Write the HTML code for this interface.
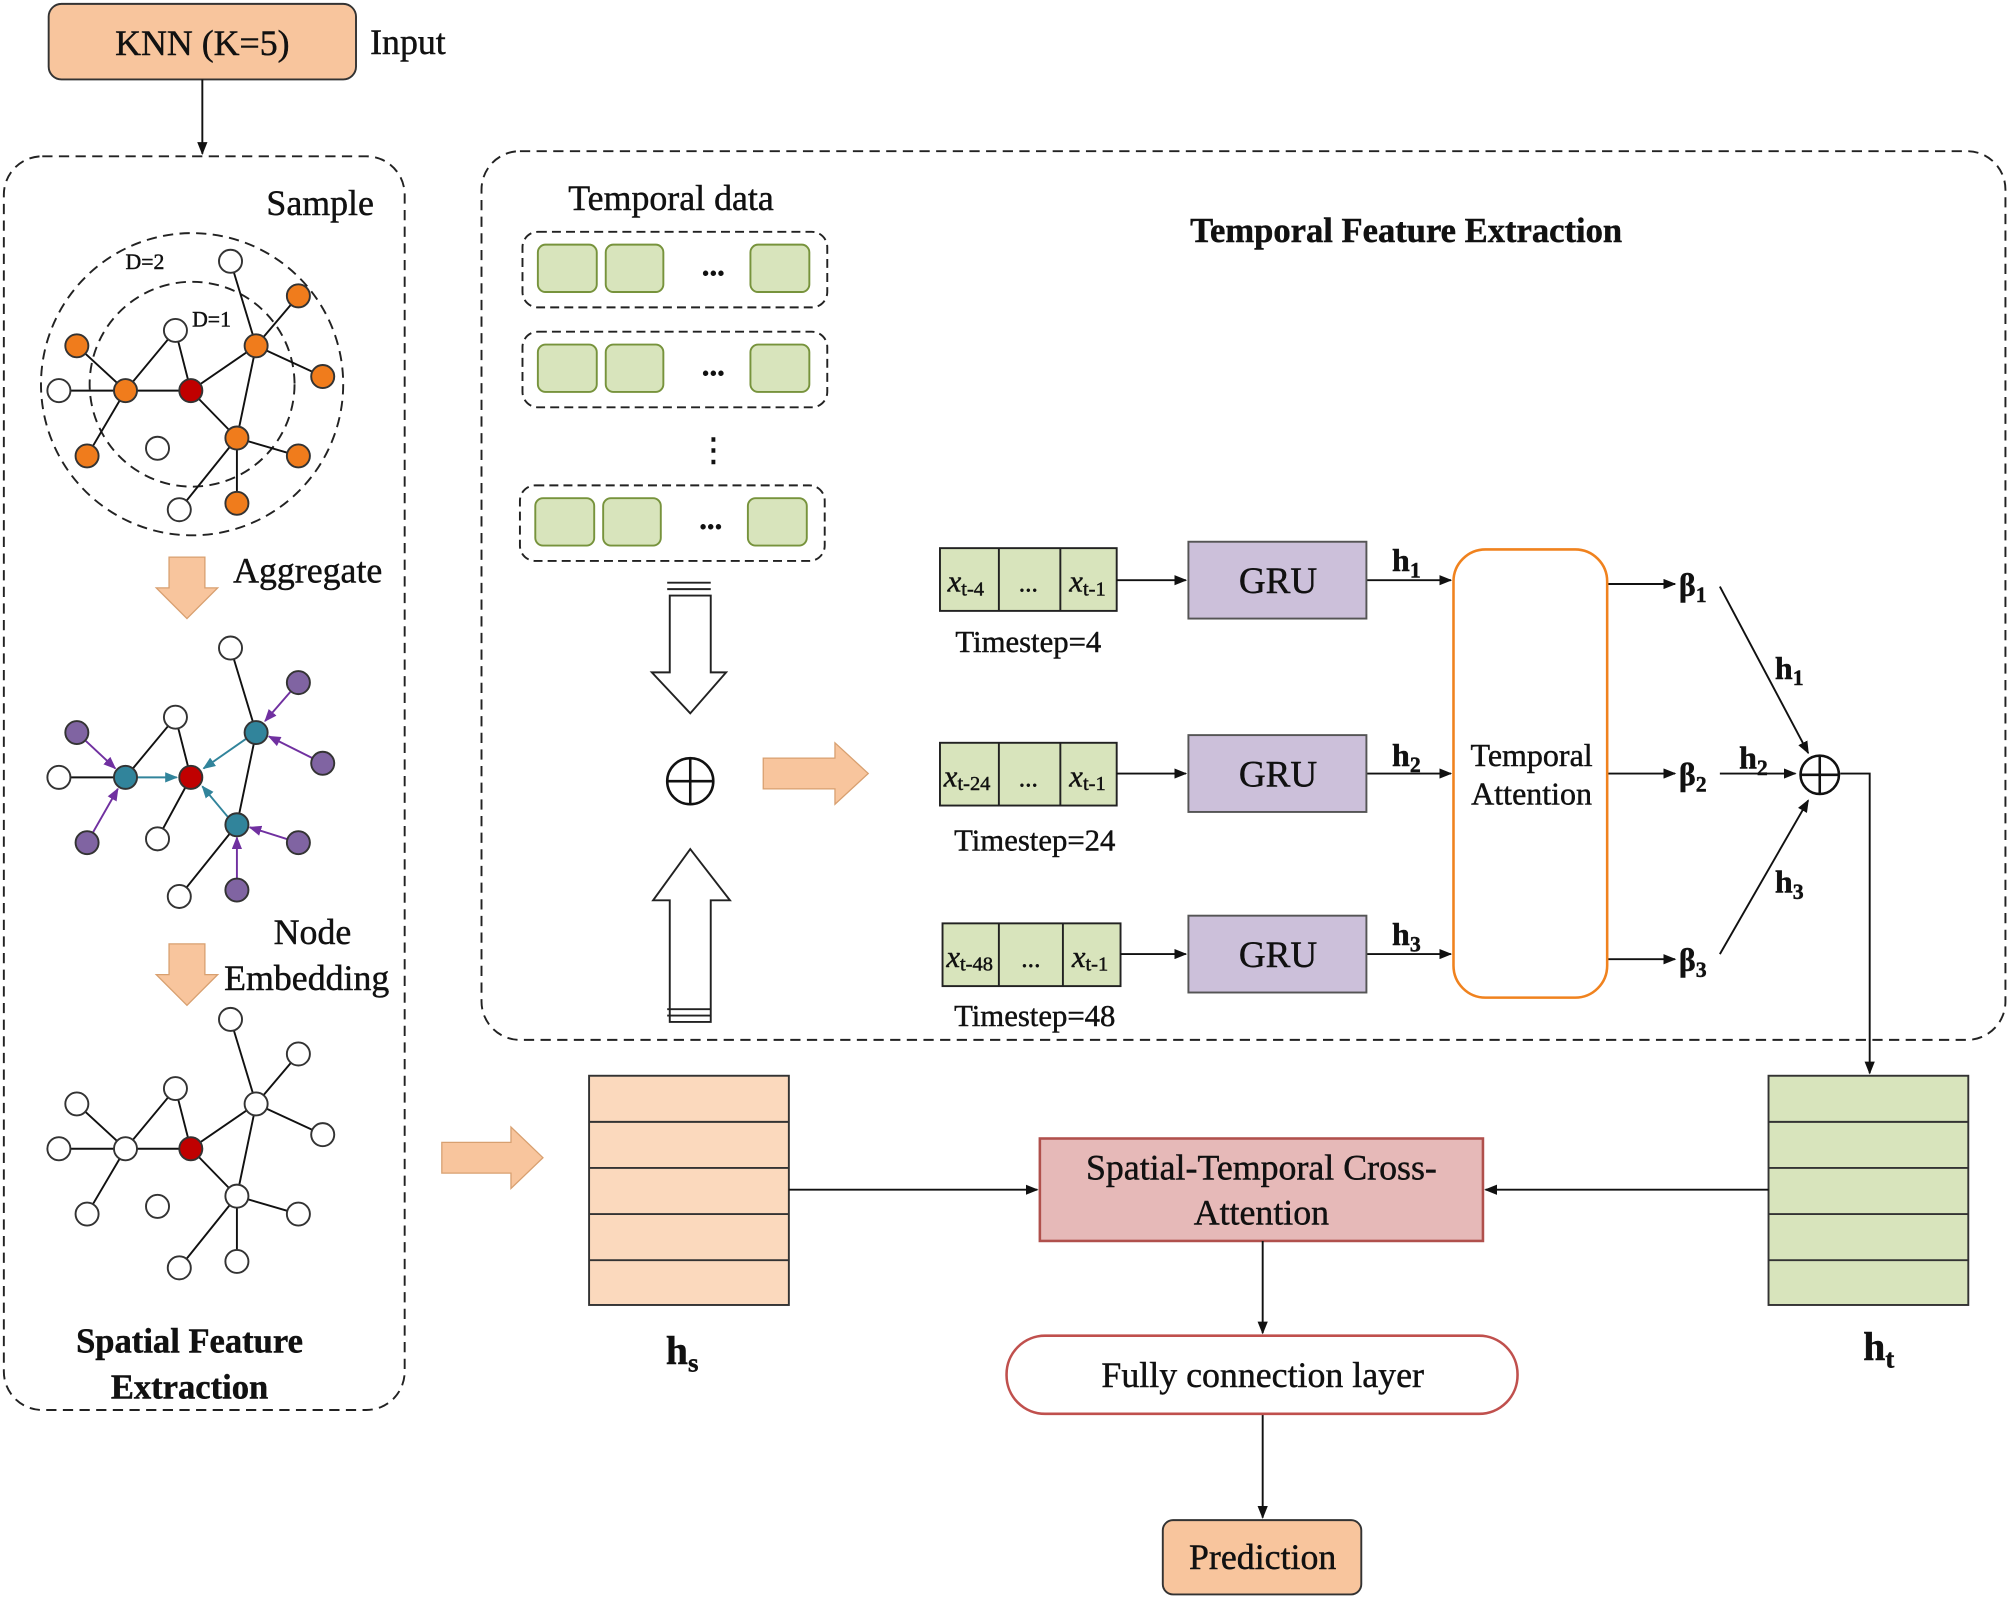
<!DOCTYPE html>
<html><head><meta charset="utf-8"><style>
html,body{margin:0;padding:0;background:#fff;}
svg{display:block;}
text{font-family:"Liberation Serif",serif;fill:#111;stroke:#111;stroke-width:0.35;}
</style></head><body>
<svg width="2008" height="1597" viewBox="0 0 1568 1247" xmlns="http://www.w3.org/2000/svg">
<defs>
<marker id="a" markerWidth="10" markerHeight="8" refX="9" refY="4" orient="auto" markerUnits="userSpaceOnUse"><path d="M0,0 L10,4 L0,8 z" fill="#111"/></marker>
<marker id="pa" markerWidth="10" markerHeight="8" refX="9" refY="4" orient="auto" markerUnits="userSpaceOnUse"><path d="M0,0 L10,4 L0,8 z" fill="#7030a0"/></marker>
<marker id="ta" markerWidth="10" markerHeight="8" refX="9" refY="4" orient="auto" markerUnits="userSpaceOnUse"><path d="M0,0 L10,4 L0,8 z" fill="#31849b"/></marker>
</defs>
<rect width="1568" height="1247" fill="#fff"/>
<rect x="38" y="3" width="240" height="59" rx="10" fill="#f8c59d" stroke="#333" stroke-width="1.5"/>
<text x="158" y="43" font-size="28" text-anchor="middle">KNN (K=5)</text>
<text x="289" y="42" font-size="28">Input</text>
<line x1="158" y1="62" x2="158" y2="120" stroke="#111" stroke-width="1.5" marker-end="url(#a)"/>
<rect x="3" y="122" width="313" height="979" rx="30" fill="none" stroke="#222" stroke-width="1.5" stroke-dasharray="8,5"/>
<text x="250" y="168" font-size="28" text-anchor="middle">Sample</text>
<circle cx="150" cy="300" r="118" fill="none" stroke="#222" stroke-width="1.5" stroke-dasharray="8,5"/>
<circle cx="150" cy="300" r="80" fill="none" stroke="#222" stroke-width="1.5" stroke-dasharray="8,5"/>
<text x="98" y="210" font-size="17">D=2</text>
<text x="150" y="255" font-size="17">D=1</text>
<g stroke="#111" stroke-width="1.5">
<line x1="149" y1="305" x2="98" y2="305"/><line x1="149" y1="305" x2="200" y2="270"/><line x1="149" y1="305" x2="185" y2="342"/><line x1="149" y1="305" x2="137" y2="258"/>
<line x1="98" y1="305" x2="137" y2="258"/><line x1="98" y1="305" x2="46" y2="305"/><line x1="98" y1="305" x2="60" y2="270"/><line x1="98" y1="305" x2="68" y2="356"/>
<line x1="200" y1="270" x2="180" y2="204"/><line x1="200" y1="270" x2="233" y2="231"/><line x1="200" y1="270" x2="252" y2="294"/><line x1="200" y1="270" x2="185" y2="342"/>
<line x1="185" y1="342" x2="233" y2="356"/><line x1="185" y1="342" x2="185" y2="393"/><line x1="185" y1="342" x2="140" y2="398"/>
</g>
<g stroke="#333" stroke-width="1.5">
<circle cx="98" cy="305" r="9" fill="#f07c1c"/><circle cx="200" cy="270" r="9" fill="#f07c1c"/><circle cx="185" cy="342" r="9" fill="#f07c1c"/>
<circle cx="60" cy="270" r="9" fill="#f07c1c"/><circle cx="233" cy="231" r="9" fill="#f07c1c"/><circle cx="252" cy="294" r="9" fill="#f07c1c"/><circle cx="68" cy="356" r="9" fill="#f07c1c"/><circle cx="233" cy="356" r="9" fill="#f07c1c"/><circle cx="185" cy="393" r="9" fill="#f07c1c"/>
<circle cx="180" cy="204" r="9" fill="#fff"/><circle cx="137" cy="258" r="9" fill="#fff"/><circle cx="46" cy="305" r="9" fill="#fff"/><circle cx="123" cy="350" r="9" fill="#fff"/><circle cx="140" cy="398" r="9" fill="#fff"/>
<circle cx="149" cy="305" r="9" fill="#c00000"/>
</g>
<path d="M132,435 H160 V459 H170 L146,483 L122,459 H132 Z" fill="#f8c59d" stroke="#d8a070" stroke-width="1"/>
<text x="182" y="455" font-size="28">Aggregate</text>
<g stroke="#111" stroke-width="1.5">
<line x1="137" y1="560" x2="98" y2="607"/><line x1="137" y1="560" x2="149" y2="607"/><line x1="98" y1="607" x2="46" y2="607"/>
<line x1="200" y1="572" x2="180" y2="506"/><line x1="200" y1="572" x2="185" y2="644"/>
<line x1="185" y1="644" x2="140" y2="700"/><line x1="149" y1="607" x2="123" y2="655"/>
</g>
<g stroke="#31849b" stroke-width="1.5">
<line x1="107" y1="607" x2="138" y2="607" marker-end="url(#ta)"/><line x1="192" y1="577" x2="159" y2="600" marker-end="url(#ta)"/><line x1="178" y1="638" x2="158" y2="614" marker-end="url(#ta)"/>
</g>
<g stroke="#7030a0" stroke-width="1.5">
<line x1="60" y1="572" x2="90" y2="600" marker-end="url(#pa)"/><line x1="68" y1="658" x2="92" y2="616" marker-end="url(#pa)"/>
<line x1="233" y1="533" x2="207" y2="563" marker-end="url(#pa)"/><line x1="252" y1="596" x2="210" y2="575" marker-end="url(#pa)"/>
<line x1="233" y1="658" x2="195" y2="646" marker-end="url(#pa)"/><line x1="185" y1="695" x2="185" y2="654" marker-end="url(#pa)"/>
</g>
<g stroke="#333" stroke-width="1.5">
<circle cx="98" cy="607" r="9" fill="#31849b"/><circle cx="200" cy="572" r="9" fill="#31849b"/><circle cx="185" cy="644" r="9" fill="#31849b"/>
<circle cx="60" cy="572" r="9" fill="#8064a2"/><circle cx="233" cy="533" r="9" fill="#8064a2"/><circle cx="252" cy="596" r="9" fill="#8064a2"/><circle cx="68" cy="658" r="9" fill="#8064a2"/><circle cx="233" cy="658" r="9" fill="#8064a2"/><circle cx="185" cy="695" r="9" fill="#8064a2"/>
<circle cx="180" cy="506" r="9" fill="#fff"/><circle cx="137" cy="560" r="9" fill="#fff"/><circle cx="46" cy="607" r="9" fill="#fff"/><circle cx="123" cy="655" r="9" fill="#fff"/><circle cx="140" cy="700" r="9" fill="#fff"/>
<circle cx="149" cy="607" r="9" fill="#c00000"/>
</g>
<path d="M132,737 H160 V761 H170 L146,785 L122,761 H132 Z" fill="#f8c59d" stroke="#d8a070" stroke-width="1"/>
<text x="244" y="737" font-size="28" text-anchor="middle">Node</text>
<text x="175" y="773" font-size="28">Embedding</text>
<g transform="translate(0,592)">
<g stroke="#111" stroke-width="1.5">
<line x1="149" y1="305" x2="98" y2="305"/><line x1="149" y1="305" x2="200" y2="270"/><line x1="149" y1="305" x2="185" y2="342"/><line x1="149" y1="305" x2="137" y2="258"/>
<line x1="98" y1="305" x2="137" y2="258"/><line x1="98" y1="305" x2="46" y2="305"/><line x1="98" y1="305" x2="60" y2="270"/><line x1="98" y1="305" x2="68" y2="356"/>
<line x1="200" y1="270" x2="180" y2="204"/><line x1="200" y1="270" x2="233" y2="231"/><line x1="200" y1="270" x2="252" y2="294"/><line x1="200" y1="270" x2="185" y2="342"/>
<line x1="185" y1="342" x2="233" y2="356"/><line x1="185" y1="342" x2="185" y2="393"/><line x1="185" y1="342" x2="140" y2="398"/>
</g>
<g stroke="#333" stroke-width="1.5" fill="#fff">
<circle cx="98" cy="305" r="9"/><circle cx="200" cy="270" r="9"/><circle cx="185" cy="342" r="9"/>
<circle cx="60" cy="270" r="9"/><circle cx="233" cy="231" r="9"/><circle cx="252" cy="294" r="9"/><circle cx="68" cy="356" r="9"/><circle cx="233" cy="356" r="9"/><circle cx="185" cy="393" r="9"/>
<circle cx="180" cy="204" r="9"/><circle cx="137" cy="258" r="9"/><circle cx="46" cy="305" r="9"/><circle cx="123" cy="350" r="9"/><circle cx="140" cy="398" r="9"/>
<circle cx="149" cy="305" r="9" fill="#c00000"/>
</g>
</g>
<text x="148" y="1056" font-size="27" font-weight="bold" text-anchor="middle">Spatial Feature</text>
<text x="148" y="1092" font-size="27" font-weight="bold" text-anchor="middle">Extraction</text>
<rect x="376" y="118" width="1190" height="694" rx="30" fill="none" stroke="#222" stroke-width="1.5" stroke-dasharray="8,5"/>
<text x="524" y="164" font-size="28" text-anchor="middle">Temporal data</text>
<text x="1098" y="189" font-size="27" font-weight="bold" text-anchor="middle">Temporal Feature Extraction</text>
<g stroke="#222" stroke-width="1.5" fill="none" stroke-dasharray="7,4">
<rect x="408" y="181" width="238" height="59" rx="12"/><rect x="408" y="259" width="238" height="59" rx="12"/><rect x="406" y="379" width="238" height="59" rx="12"/>
</g>
<g fill="#d8e4bc" stroke="#77933c" stroke-width="1.5">
<rect x="420" y="191" width="46" height="37" rx="6"/><rect x="473" y="191" width="45" height="37" rx="6"/><rect x="586" y="191" width="46" height="37" rx="6"/>
<rect x="420" y="269" width="46" height="37" rx="6"/><rect x="473" y="269" width="45" height="37" rx="6"/><rect x="586" y="269" width="46" height="37" rx="6"/>
<rect x="418" y="389" width="46" height="37" rx="6"/><rect x="471" y="389" width="45" height="37" rx="6"/><rect x="584" y="389" width="46" height="37" rx="6"/>
</g>
<text x="557" y="215" font-size="24" font-weight="bold" text-anchor="middle">...</text>
<text x="557" y="293" font-size="24" font-weight="bold" text-anchor="middle">...</text>
<text x="555" y="413" font-size="24" font-weight="bold" text-anchor="middle">...</text>
<text x="557" y="360" font-size="26" text-anchor="middle">⋮</text>
<g fill="#fff" stroke="#222" stroke-width="1.5">
<path d="M523,465 H555 V525 H567 L539,557 L509,525 H523 Z"/>
<line x1="521" y1="455" x2="555" y2="455"/><line x1="521" y1="460" x2="555" y2="460"/>
<path d="M523,798 H555 V703 H570 L539,663 L510,703 H523 Z"/>
<line x1="521" y1="788" x2="555" y2="788"/><line x1="521" y1="793" x2="555" y2="793"/>
</g>
<circle cx="539" cy="610" r="18" fill="none" stroke="#111" stroke-width="2"/>
<line x1="521" y1="610" x2="557" y2="610" stroke="#111" stroke-width="2"/><line x1="539" y1="592" x2="539" y2="628" stroke="#111" stroke-width="2"/>
<path d="M596,592 H652 V580 L678,604 L652,628 V616 H596 Z" fill="#f8c59d" stroke="#d8a070"/>
<g fill="#d8e4bc" stroke="#222" stroke-width="1.5">
<rect x="734" y="428" width="138" height="49"/><line x1="780" y1="428" x2="780" y2="477"/><line x1="828" y1="428" x2="828" y2="477"/>
<rect x="734" y="580" width="138" height="49"/><line x1="780" y1="580" x2="780" y2="629"/><line x1="828" y1="580" x2="828" y2="629"/>
<rect x="736" y="721" width="139" height="49"/><line x1="780" y1="721" x2="780" y2="770"/><line x1="830" y1="721" x2="830" y2="770"/>
</g>
<g font-size="24" font-style="italic">
<text x="740" y="462">x<tspan font-size="16" font-style="normal" dy="3">t-4</tspan></text>
<text x="835" y="462">x<tspan font-size="16" font-style="normal" dy="3">t-1</tspan></text>
<text x="737" y="614">x<tspan font-size="16" font-style="normal" dy="3">t-24</tspan></text>
<text x="835" y="614">x<tspan font-size="16" font-style="normal" dy="3">t-1</tspan></text>
<text x="739" y="755">x<tspan font-size="16" font-style="normal" dy="3">t-48</tspan></text>
<text x="837" y="755">x<tspan font-size="16" font-style="normal" dy="3">t-1</tspan></text>
</g>
<text x="803" y="462" font-size="20" text-anchor="middle">...</text>
<text x="803" y="614" font-size="20" text-anchor="middle">...</text>
<text x="805" y="755" font-size="20" text-anchor="middle">...</text>
<text x="803" y="509" font-size="24" text-anchor="middle">Timestep=4</text>
<text x="808" y="664" font-size="24" text-anchor="middle">Timestep=24</text>
<text x="808" y="801" font-size="24" text-anchor="middle">Timestep=48</text>
<g stroke="#111" stroke-width="1.5">
<line x1="872" y1="453" x2="926" y2="453" marker-end="url(#a)"/><line x1="872" y1="604" x2="926" y2="604" marker-end="url(#a)"/><line x1="875" y1="745" x2="926" y2="745" marker-end="url(#a)"/>
<line x1="1067" y1="453" x2="1133" y2="453" marker-end="url(#a)"/><line x1="1067" y1="604" x2="1133" y2="604" marker-end="url(#a)"/><line x1="1067" y1="745" x2="1133" y2="745" marker-end="url(#a)"/>
<line x1="1255" y1="456" x2="1308" y2="456" marker-end="url(#a)"/><line x1="1255" y1="604" x2="1308" y2="604" marker-end="url(#a)"/><line x1="1255" y1="749" x2="1308" y2="749" marker-end="url(#a)"/>
<line x1="1343" y1="458" x2="1412" y2="588" marker-end="url(#a)"/><line x1="1343" y1="604" x2="1402" y2="604" marker-end="url(#a)"/><line x1="1343" y1="745" x2="1412" y2="625" marker-end="url(#a)"/>
<polyline points="1437,604 1460,604 1460,838" fill="none" marker-end="url(#a)"/>
</g>
<g fill="#ccc0da" stroke="#555" stroke-width="1.5">
<rect x="928" y="423" width="139" height="60"/><rect x="928" y="574" width="139" height="60"/><rect x="928" y="715" width="139" height="60"/>
</g>
<text x="998" y="463" font-size="29" text-anchor="middle">GRU</text>
<text x="998" y="614" font-size="29" text-anchor="middle">GRU</text>
<text x="998" y="755" font-size="29" text-anchor="middle">GRU</text>
<g font-size="25" font-weight="bold">
<text x="1087" y="446">h<tspan font-size="17" dy="5">1</tspan></text>
<text x="1087" y="598">h<tspan font-size="17" dy="5">2</tspan></text>
<text x="1087" y="738">h<tspan font-size="17" dy="5">3</tspan></text>
<text x="1386" y="530">h<tspan font-size="17" dy="5">1</tspan></text>
<text x="1358" y="600">h<tspan font-size="17" dy="5">2</tspan></text>
<text x="1386" y="697">h<tspan font-size="17" dy="5">3</tspan></text>
<text x="1311" y="465">β<tspan font-size="17" dy="5">1</tspan></text>
<text x="1311" y="613">β<tspan font-size="17" dy="5">2</tspan></text>
<text x="1311" y="758">β<tspan font-size="17" dy="5">3</tspan></text>
</g>
<rect x="1135" y="429" width="120" height="350" rx="25" fill="#fff" stroke="#f0821e" stroke-width="2"/>
<text x="1196" y="598" font-size="25" text-anchor="middle">Temporal</text>
<text x="1196" y="628" font-size="25" text-anchor="middle">Attention</text>
<circle cx="1421" cy="605" r="15" fill="none" stroke="#111" stroke-width="2"/>
<line x1="1406" y1="605" x2="1436" y2="605" stroke="#111" stroke-width="2"/><line x1="1421" y1="590" x2="1421" y2="620" stroke="#111" stroke-width="2"/>
<path d="M345,892 H399 V880 L424,904 L399,928 V916 H345 Z" fill="#f8c59d" stroke="#d8a070"/>
<g fill="#fbd9bd" stroke="#333" stroke-width="1.5">
<rect x="460" y="840" width="156" height="179"/><line x1="460" y1="876" x2="616" y2="876"/><line x1="460" y1="912" x2="616" y2="912"/><line x1="460" y1="948" x2="616" y2="948"/><line x1="460" y1="984" x2="616" y2="984"/>
</g>
<g fill="#d8e4bc" stroke="#333" stroke-width="1.5">
<rect x="1381" y="840" width="156" height="179"/><line x1="1381" y1="876" x2="1537" y2="876"/><line x1="1381" y1="912" x2="1537" y2="912"/><line x1="1381" y1="948" x2="1537" y2="948"/><line x1="1381" y1="984" x2="1537" y2="984"/>
</g>
<text x="520" y="1065" font-size="31" font-weight="bold">h<tspan font-size="21" dy="6">s</tspan></text>
<text x="1455" y="1062" font-size="31" font-weight="bold">h<tspan font-size="21" dy="6">t</tspan></text>
<rect x="812" y="889" width="346" height="80" fill="#e6b9b8" stroke="#b0504c" stroke-width="2"/>
<text x="985" y="921" font-size="28" text-anchor="middle">Spatial-Temporal Cross-</text>
<text x="985" y="956" font-size="28" text-anchor="middle">Attention</text>
<g stroke="#111" stroke-width="1.5">
<line x1="616" y1="929" x2="810" y2="929" marker-end="url(#a)"/><line x1="1381" y1="929" x2="1160" y2="929" marker-end="url(#a)"/>
<line x1="986" y1="969" x2="986" y2="1041" marker-end="url(#a)"/><line x1="986" y1="1104" x2="986" y2="1185" marker-end="url(#a)"/>
</g>
<rect x="786" y="1043" width="399" height="61" rx="30" fill="#fff" stroke="#c0504d" stroke-width="2"/>
<text x="986" y="1083" font-size="28" text-anchor="middle">Fully connection layer</text>
<rect x="908" y="1187" width="155" height="58" rx="8" fill="#f8c59d" stroke="#333" stroke-width="1.5"/>
<text x="986" y="1225" font-size="28" text-anchor="middle">Prediction</text>
</svg>
</body></html>
